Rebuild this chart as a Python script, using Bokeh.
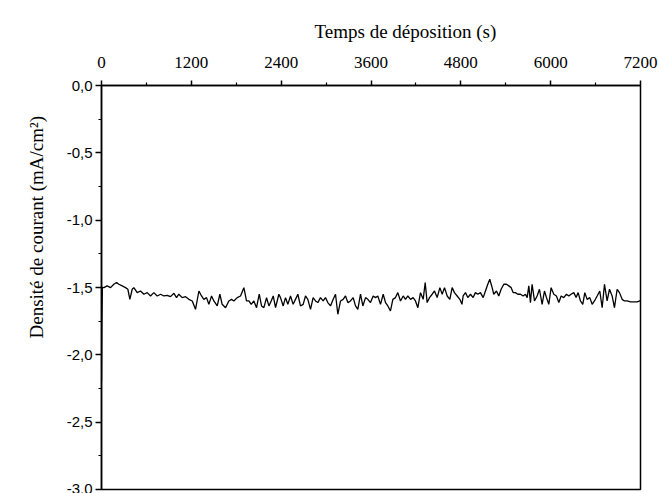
from bokeh.plotting import figure
from bokeh.embed import file_html
from bokeh.resources import INLINE
from bokeh.models import FixedTicker, CustomJSTickFormatter, Range1d, Title

# Deposition time (s) and current density (mA/cm2)
time_s = [0, 5, 12, 31, 76, 121, 165, 201, 232, 276, 321, 352, 379, 410, 432, 477, 521, 566, 610,
          655, 699, 744, 789, 833, 878, 922, 967, 1002, 1033, 1078, 1123, 1167, 1212, 1256,
          1301, 1336, 1367, 1403, 1434, 1470, 1501, 1546, 1581, 1612, 1657, 1701, 1737, 1768,
          1813, 1857, 1902, 1937, 1969, 2000, 2035, 2071, 2107, 2138, 2169, 2205, 2236, 2267,
          2294, 2325, 2369,
          2391, 2427, 2458, 2489, 2525, 2560, 2591, 2623, 2658, 2694, 2725, 2756, 2792, 2827,
          2859, 2890, 2925, 2961, 2992, 3023, 3059, 3095, 3126, 3157, 3193, 3228, 3259, 3291,
          3326, 3362, 3393, 3424, 3460, 3491, 3527, 3558, 3593, 3629, 3660, 3691, 3727, 3763,
          3794, 3825, 3860, 3892, 3927, 3958, 3994, 4030, 4061, 4092, 4128, 4163, 4194, 4226,
          4261, 4297, 4324, 4350, 4382, 4417, 4448, 4484, 4520, 4551, 4582, 4618, 4653, 4684,
          4715, 4751, 4787,
          4815, 4831, 4862, 4893, 4929, 4964, 4995, 5027, 5062, 5098, 5129, 5160, 5187, 5218,
          5240, 5276, 5307, 5338, 5374, 5409, 5441, 5472, 5499, 5530, 5561, 5597, 5632, 5663,
          5686, 5708, 5730, 5752, 5784, 5819, 5850, 5886, 5917, 5944, 5975, 6006, 6042, 6077,
          6109, 6140, 6175, 6211, 6242, 6273, 6309, 6340, 6367, 6398, 6429, 6456, 6487, 6523,
          6554, 6585, 6621, 6656, 6688, 6719, 6754, 6786, 6821, 6852, 6888, 6919, 6955, 6986,
          7021, 7066, 7111, 7155, 7191, 7200]

current = [-2.20, -1.75, -1.50, -1.501, -1.488, -1.501, -1.476, -1.463, -1.476, -1.488, -1.501,
           -1.513, -1.588, -1.513, -1.501, -1.538, -1.526, -1.550, -1.538, -1.563, -1.538,
           -1.563, -1.550, -1.563, -1.558, -1.568, -1.543, -1.575, -1.550, -1.575, -1.568,
           -1.588, -1.600, -1.662, -1.526, -1.563, -1.588, -1.575, -1.625, -1.563, -1.600,
           -1.637, -1.550, -1.625, -1.650, -1.600, -1.588, -1.600, -1.575, -1.563, -1.501,
           -1.600, -1.600, -1.625, -1.600, -1.650, -1.550, -1.637, -1.650, -1.575, -1.637,
           -1.600, -1.563, -1.650, -1.550,
           -1.575, -1.637, -1.575, -1.625, -1.563, -1.625, -1.588, -1.550, -1.637, -1.625,
           -1.563, -1.588, -1.662, -1.575, -1.600, -1.612, -1.575, -1.600, -1.575, -1.612,
           -1.637, -1.588, -1.550, -1.699, -1.600, -1.588, -1.563, -1.612, -1.600, -1.575,
           -1.637, -1.662, -1.550, -1.637, -1.575, -1.588, -1.612, -1.563, -1.575, -1.563,
           -1.625, -1.550, -1.612, -1.637, -1.674, -1.588, -1.575, -1.538, -1.600, -1.563,
           -1.588, -1.563, -1.588, -1.575, -1.600, -1.650, -1.538, -1.588, -1.463, -1.612,
           -1.575, -1.550, -1.526, -1.575, -1.501, -1.550, -1.501, -1.563, -1.588, -1.501,
           -1.538, -1.563, -1.588,
           -1.625, -1.563, -1.538, -1.575, -1.550, -1.575, -1.538, -1.550, -1.538, -1.575,
           -1.526, -1.476, -1.439, -1.501, -1.550, -1.526, -1.563, -1.513, -1.476, -1.476,
           -1.488, -1.501, -1.538, -1.538, -1.550, -1.550, -1.563, -1.550, -1.575, -1.488,
           -1.612, -1.476, -1.600, -1.563, -1.513, -1.625, -1.526, -1.575, -1.625, -1.501,
           -1.550, -1.563, -1.612, -1.563, -1.575, -1.550, -1.563, -1.550, -1.538, -1.575,
           -1.538, -1.600, -1.625, -1.538, -1.588, -1.575, -1.625, -1.600, -1.563, -1.526,
           -1.650, -1.476, -1.600, -1.513, -1.563, -1.650, -1.513, -1.538, -1.588, -1.600,
           -1.600, -1.607, -1.607, -1.607, -1.600, -1.600]

x_ticks = [0, 1200, 2400, 3600, 4800, 6000, 7200]
x_minor = [600, 1800, 3000, 4200, 5400, 6600]
y_ticks = [0.0, -0.5, -1.0, -1.5, -2.0, -2.5, -3.0]
y_minor = [-0.25, -0.75, -1.25, -1.75, -2.25, -2.75]

x_title = "Temps de déposition (s)"
y_title = "Densité de courant (mA/cm²)"

p = figure(width=658, height=493, output_backend="svg", toolbar_location=None,
           x_axis_location="above", x_range=Range1d(0, 7200), y_range=Range1d(-3.0, 0.0),
           min_border_left=101, min_border_top=85, min_border_right=18, min_border_bottom=4)

p.line(time_s, current, line_color="black", line_width=1.3)

p.xgrid.visible = False
p.ygrid.visible = False
p.background_fill_color = "white"
p.border_fill_color = "white"
p.outline_line_color = "black"
p.outline_line_width = 1.5

xa = p.xaxis[0]
xa.ticker = FixedTicker(ticks=x_ticks, minor_ticks=x_minor)
xa.major_label_text_font = "Liberation Serif"
xa.major_label_text_font_size = "17px"
xa.major_label_text_color = "black"
xa.major_label_standoff = 13
xa.major_tick_out = 5
xa.major_tick_in = 0
xa.minor_tick_out = 3
xa.minor_tick_in = 0
xa.axis_line_width = 1.5
xa.major_tick_line_width = 1.5
xa.minor_tick_line_width = 1.2
xa.axis_line_color = "black"

ya = p.yaxis[0]
ya.ticker = FixedTicker(ticks=y_ticks, minor_ticks=y_minor)
ya.formatter = CustomJSTickFormatter(code="return tick.toFixed(1).replace('.', ',');")
ya.major_label_text_font = "Liberation Sans"
ya.major_label_text_font_size = "15px"
ya.major_label_text_color = "black"
ya.major_label_standoff = 3
ya.major_tick_out = 6
ya.major_tick_in = 0
ya.minor_tick_out = 3
ya.minor_tick_in = 0
ya.axis_line_width = 1.5
ya.major_tick_line_width = 1.5
ya.minor_tick_line_width = 1.2
ya.axis_line_color = "black"

# axis titles, placed off-centre as in the original
p.add_layout(Title(text=x_title, align="left", offset=213, standoff=23,
                   text_font="Liberation Serif", text_font_size="19px",
                   text_font_style="normal", text_color="black"), "above")
p.add_layout(Title(text=y_title, align="left", offset=151, standoff=33,
                   text_font="Liberation Serif", text_font_size="19px",
                   text_font_style="normal", text_color="black"), "left")

open("out.html", "w").write(file_html(p, INLINE))
